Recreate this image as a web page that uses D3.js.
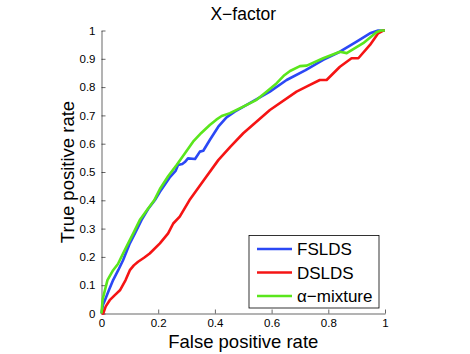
<!DOCTYPE html>
<html>
<head>
<meta charset="utf-8">
<script src="https://cdn.jsdelivr.net/npm/d3@7"></script>
<style>
  html, body { margin: 0; padding: 0; background: #fff; overflow: hidden; }
  svg { display: block; }
  text { font-family: "Liberation Sans", Arial, Helvetica, sans-serif; }
</style>
</head>
<body>
<svg id="chart" width="470" height="354"></svg>
<script>
// ROC curves, [false positive rate, true positive rate]
var fslds = [
  [0, 0], [0.005, 0.03], [0.012, 0.047], [0.026, 0.082], [0.041, 0.118], [0.059, 0.153],
  [0.076, 0.188], [0.10, 0.248], [0.118, 0.283], [0.141, 0.33], [0.165, 0.37], [0.188, 0.40],
  [0.206, 0.43], [0.24, 0.48], [0.262, 0.505], [0.27, 0.525], [0.285, 0.528], [0.294, 0.535],
  [0.305, 0.548], [0.33, 0.546], [0.347, 0.572], [0.359, 0.575], [0.382, 0.613], [0.412, 0.66],
  [0.441, 0.693], [0.47, 0.713], [0.523, 0.743], [0.594, 0.784], [0.653, 0.825], [0.72, 0.86],
  [0.782, 0.896], [0.841, 0.925], [0.9, 0.961], [0.947, 0.99], [0.976, 1.0], [1, 1]
];
var dslds = [
  [0, 0], [0.006, 0.0], [0.015, 0.025], [0.029, 0.047], [0.047, 0.065], [0.065, 0.082],
  [0.085, 0.118], [0.10, 0.153], [0.114, 0.17], [0.129, 0.183], [0.15, 0.197], [0.17, 0.212],
  [0.206, 0.248], [0.235, 0.283], [0.253, 0.318], [0.276, 0.342], [0.31, 0.40], [0.36, 0.47],
  [0.412, 0.542], [0.455, 0.59], [0.5, 0.637], [0.594, 0.719], [0.688, 0.784], [0.73, 0.805],
  [0.77, 0.825], [0.794, 0.825], [0.841, 0.872], [0.882, 0.902], [0.906, 0.902], [0.947, 0.949],
  [0.976, 0.99], [0.994, 1.0], [1, 1]
];
var alphaMix = [
  [0, 0], [0.004, 0.05], [0.012, 0.082], [0.021, 0.118], [0.041, 0.153], [0.058, 0.175],
  [0.076, 0.212], [0.094, 0.248], [0.112, 0.283], [0.135, 0.33], [0.16, 0.365], [0.186, 0.40],
  [0.206, 0.44], [0.235, 0.485], [0.265, 0.525], [0.295, 0.567], [0.323, 0.607], [0.352, 0.638],
  [0.382, 0.666], [0.405, 0.685], [0.424, 0.698], [0.453, 0.708], [0.5, 0.731], [0.547, 0.755],
  [0.582, 0.784], [0.618, 0.814], [0.645, 0.842], [0.665, 0.857], [0.7, 0.874], [0.724, 0.876],
  [0.782, 0.902], [0.841, 0.925], [0.865, 0.92], [0.923, 0.955], [0.97, 0.994], [0.985, 1.0], [1, 1]
];
var seriesNames = ["FSLDS", "DSLDS", "\u03b1\u2212mixture"];
var seriesColors = ["#2b48f5", "#f51414", "#5ae61c"];
var xTicks = [0, 0.2, 0.4, 0.6, 0.8, 1];
var yTicks = [0, 0.1, 0.2, 0.3, 0.4, 0.5, 0.6, 0.7, 0.8, 0.9, 1];

var svg = d3.select("#chart"),
  margin = {top: 30.5, left: 101.5, right: 85, bottom: 40.5},
  innerWidth = 470 - margin.left - margin.right,
  innerHeight = 354 - margin.top - margin.bottom,
  g = svg.append("g").attr("transform", "translate(" + margin.left + "," + margin.top + ")"),
  x = d3.scaleLinear().domain([0, 1]).range([0, innerWidth]),
  y = d3.scaleLinear().domain([0, 1]).range([innerHeight, 0]),
  line = d3.line()
    .x(function(d) { return x(d[0]); })
    .y(function(d) { return y(d[1]); });

var fmt = function(d) { return d === 0 || d === 1 ? String(d) : d3.format(".1f")(d); };

var xAxis = g.append("g")
  .attr("transform", "translate(0," + innerHeight + ")")
  .call(d3.axisBottom(x).tickValues(xTicks).tickFormat(fmt).tickSizeInner(-4).tickSizeOuter(0).tickPadding(5));
var yAxis = g.append("g")
  .call(d3.axisLeft(y).tickValues(yTicks).tickFormat(fmt).tickSizeInner(-4).tickSizeOuter(0).tickPadding(6));

[xAxis, yAxis].forEach(function(a) {
  a.attr("font-family", null);
  a.selectAll("text").attr("font-size", 11.5).attr("fill", "#000");
  a.selectAll("line, path").attr("stroke", "#000").attr("stroke-width", 0.6);
});

var data = [fslds, dslds, alphaMix];
g.selectAll(".dline")
  .data(data)
  .enter()
  .append("path")
    .attr("class", "dline")
    .attr("fill", "none")
    .attr("stroke", function(d, i) { return seriesColors[i]; })
    .attr("stroke-width", 2.6)
    .attr("stroke-linejoin", "round")
    .attr("d", line);

// legend
var legend = g.append("g").attr("transform", "translate(" + (249 - margin.left) + "," + (235.5 - margin.top) + ")");
legend.append("rect")
  .attr("width", 130).attr("height", 72.5)
  .attr("fill", "#fff").attr("stroke", "#000").attr("stroke-width", 0.8);
seriesNames.forEach(function(name, i) {
  var yy = 13.5 + i * 23.5;
  legend.append("line")
    .attr("x1", 8).attr("x2", 43).attr("y1", yy).attr("y2", yy)
    .attr("stroke", seriesColors[i]).attr("stroke-width", 2.6);
  legend.append("text")
    .attr("x", 48).attr("y", yy).attr("dy", "0.36em")
    .attr("font-size", 17).attr("fill", "#000")
    .text(name);
});

svg.append("text")
  .attr("x", margin.left + innerWidth / 2).attr("y", 20)
  .attr("text-anchor", "middle").attr("font-size", 17.5).attr("fill", "#000")
  .text("X\u2212factor");

svg.append("text")
  .attr("x", margin.left + innerWidth / 2).attr("y", 348)
  .attr("text-anchor", "middle").attr("font-size", 18.5).attr("fill", "#000")
  .text("False positive rate");

svg.append("text")
  .attr("transform", "translate(74," + (margin.top + innerHeight / 2) + ") rotate(-90)")
  .attr("text-anchor", "middle").attr("font-size", 18.5).attr("fill", "#000")
  .text("True positive rate");
</script>
</body>
</html>
